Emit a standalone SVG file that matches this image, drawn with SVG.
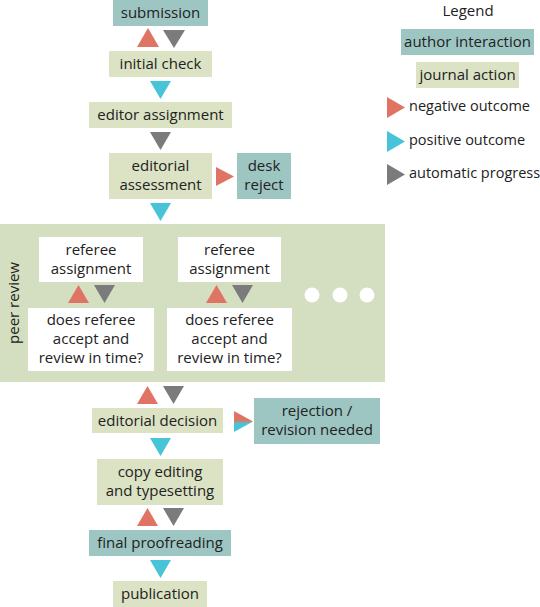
<svg xmlns="http://www.w3.org/2000/svg" width="540" height="607" viewBox="0 0 540 607">
<defs>
<style>
text{font-family:"Open Sans","Noto Sans","DejaVu Sans",sans-serif;font-size:15px;fill:#222;text-anchor:middle}
.author{fill:#9dc6c3}
.journal{fill:#dbe3c4}
.white{fill:#fff}
.neg{fill:#e07464}
.pos{fill:#48c4d8}
.auto{fill:#7b7b7d}
.lt{text-anchor:start;font-size:14.5px}
</style>
<linearGradient id="split" x1="0" y1="0" x2="0" y2="1">
<stop offset="0.45" stop-color="#e07464"/>
<stop offset="0.6" stop-color="#48c4d8"/>
</linearGradient>
</defs>
<rect width="540" height="607" fill="#fff"/>

<g id="peer-review">
<rect x="0" y="224" width="385" height="158" fill="#d4dfc1"/>
<text transform="translate(19 303) rotate(-90)">peer review</text>
<circle cx="312" cy="295" r="7.5" fill="#fff"/>
<circle cx="340" cy="295" r="7.5" fill="#fff"/>
<circle cx="367" cy="295" r="7.5" fill="#fff"/>
</g>

<g id="submission"><rect class="author" x="113" y="-2" width="95" height="28"/><text x="160.5" y="18">submission</text></g>
<g id="initial-check"><rect class="journal" x="109" y="51" width="103" height="26"/><text x="160.5" y="69">initial check</text></g>
<g id="editor-assignment"><rect class="journal" x="89" y="102" width="143" height="26"/><text x="160.5" y="120">editor assignment</text></g>
<g id="editorial-assessment"><rect class="journal" x="109" y="153" width="103" height="46"/><text x="160.5" y="171">editorial</text><text x="160.5" y="190">assessment</text></g>
<g id="desk-reject"><rect class="author" x="237" y="153" width="54" height="46"/><text x="264" y="171">desk</text><text x="264" y="190">reject</text></g>

<g id="referee-assignment-1"><rect class="white" x="39" y="237" width="104" height="45"/><text x="91" y="255">referee</text><text x="91" y="274">assignment</text></g>
<g id="referee-check-1"><rect class="white" x="28" y="308" width="126" height="63"/><text x="91" y="325">does referee</text><text x="91" y="344">accept and</text><text x="91" y="363">review in time?</text></g>
<g id="referee-assignment-2"><rect class="white" x="178" y="237" width="103" height="45"/><text x="229.5" y="255">referee</text><text x="229.5" y="274">assignment</text></g>
<g id="referee-check-2"><rect class="white" x="167" y="308" width="125" height="63"/><text x="229.5" y="325">does referee</text><text x="229.5" y="344">accept and</text><text x="229.5" y="363">review in time?</text></g>

<g id="editorial-decision"><rect class="journal" x="92" y="408" width="131" height="25"/><text x="157.5" y="426">editorial decision</text></g>
<g id="rejection"><rect class="author" x="254" y="398" width="126" height="46"/><text x="317" y="416">rejection /</text><text x="317" y="435">revision needed</text></g>
<g id="copy-editing"><rect class="journal" x="97" y="459" width="126" height="46"/><text x="160" y="477">copy editing</text><text x="160" y="496">and typesetting</text></g>
<g id="final-proofreading"><rect class="author" x="89" y="530" width="142" height="26"/><text x="160" y="548">final proofreading</text></g>
<g id="publication"><rect class="journal" x="113" y="581" width="94" height="26"/><text x="160" y="599">publication</text></g>

<g id="connectors">
<polygon class="neg" points="137,47 159,47 148,28"/>
<polygon class="auto" points="163,30 185,30 174,48"/>
<polygon class="pos" points="150,81 171,81 160.5,99"/>
<polygon class="auto" points="150,132 171,132 160.5,150"/>
<polygon class="neg" points="216,167 216,186 234,176.5"/>
<polygon class="pos" points="150,203 171,203 160.5,221"/>
<polygon class="neg" points="68,303 89,303 78.5,285"/>
<polygon class="auto" points="94,285 115,285 104.5,303"/>
<polygon class="neg" points="206,303 227,303 216.5,285"/>
<polygon class="auto" points="232,285 253,285 242.5,303"/>
<polygon class="neg" points="137,404 158,404 147.5,386"/>
<polygon class="auto" points="163,386 184,386 173.5,404"/>
<polygon fill="url(#split)" points="234,411 234,432 253,421.5"/>
<polygon class="pos" points="150,438 171,438 160.5,456"/>
<polygon class="neg" points="137,526 158,526 147.5,508"/>
<polygon class="auto" points="163,508 184,508 173.5,526"/>
<polygon class="pos" points="150,560 171,560 160.5,578"/>
</g>

<g id="legend">
<text x="468" y="16">Legend</text>
<rect class="author" x="401" y="29" width="133" height="26"/><text x="467.5" y="47">author interaction</text>
<rect class="journal" x="416" y="62" width="103" height="26"/><text x="467.5" y="80">journal action</text>
<polygon class="neg" points="387,97 387,118 405,107.5"/><text class="lt" x="409" y="111">negative outcome</text>
<polygon class="pos" points="387,131 387,152 405,141.5"/><text class="lt" x="409" y="145">positive outcome</text>
<polygon class="auto" points="387,164 387,185 405,174.5"/><text class="lt" x="409" y="178">automatic progress</text>
</g>
</svg>
